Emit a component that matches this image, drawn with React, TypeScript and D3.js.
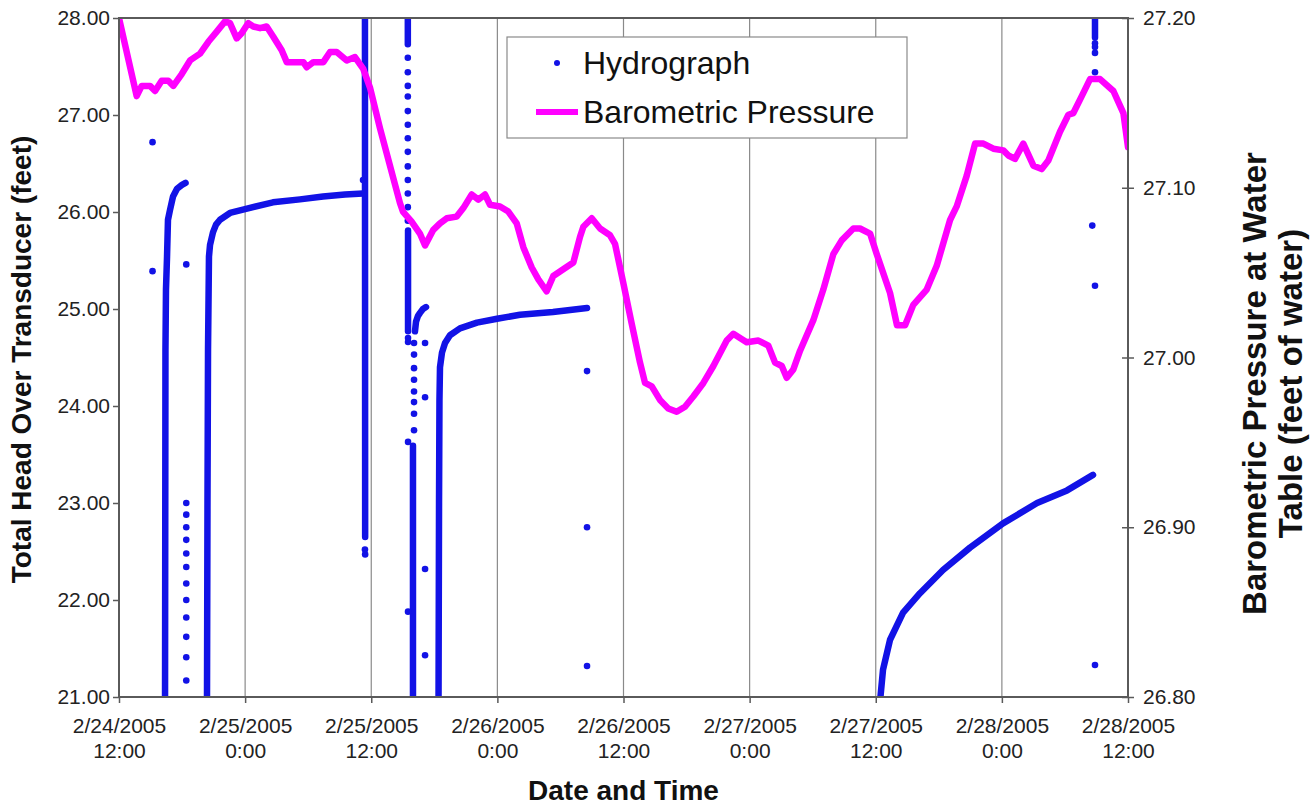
import React, { useEffect, useRef } from "react";
import * as d3 from "d3";

type Pt = [number, number];

// x values are hours after 2/24/2005 12:00
const xTickHours = [0, 12, 24, 36, 48, 60, 72, 84, 96];
const xTickDates = ["2/24/2005", "2/25/2005", "2/25/2005", "2/26/2005", "2/26/2005", "2/27/2005", "2/27/2005", "2/28/2005", "2/28/2005"];
const xTickTimes = ["12:00", "0:00", "12:00", "0:00", "12:00", "0:00", "12:00", "0:00", "12:00"];
const leftTicks = [21, 22, 23, 24, 25, 26, 27, 28];
const rightTicks = [26.8, 26.9, 27.0, 27.1, 27.2];

// Hydrograph: dense logger runs (markers so close they form a band)
const hydroRun1: Pt[] = [
  [4.38, 20.9], [4.42, 24.58], [4.47, 25.2], [4.57, 25.54], [4.66, 25.92], [4.85, 26.02],
  [5.14, 26.16], [5.52, 26.24], [5.99, 26.28], [6.33, 26.3],
];
const hydroRun2: Pt[] = [
  [8.37, 20.9], [8.42, 23.03], [8.47, 24.58], [8.56, 25.54], [8.66, 25.66], [8.94, 25.79],
  [9.23, 25.87], [9.61, 25.92], [10.56, 25.99], [11.99, 26.03], [14.65, 26.1], [17.22, 26.13],
  [19.41, 26.16], [21.5, 26.18], [23.22, 26.19],
];
const hydroRun3: Pt[] = [[23.4, 28.3], [23.42, 22.65]];
const hydroRun4: Pt[] = [[27.48, 28.3], [27.48, 27.73]];
const hydroRun5: Pt[] = [[27.5, 25.81], [27.5, 24.77]];
const hydroRun6: Pt[] = [[27.97, 20.9], [27.97, 23.59]];
const hydroRun7: Pt[] = [
  [28.16, 24.77], [28.26, 24.87], [28.45, 24.93], [28.64, 24.96], [28.92, 25.0], [29.21, 25.02],
];
const hydroRun8: Pt[] = [
  [30.4, 20.9], [30.45, 23.03], [30.49, 24.06], [30.54, 24.4], [30.73, 24.55], [31.02, 24.65],
  [31.49, 24.73], [32.44, 24.8], [34.06, 24.86], [35.97, 24.9], [38.15, 24.94], [41.29, 24.97],
  [44.53, 25.01],
];
const hydroRun9: Pt[] = [
  [72.36, 20.9], [72.69, 21.28], [73.36, 21.59], [74.6, 21.87], [76.21, 22.07], [78.4, 22.31],
  [80.97, 22.54], [84.11, 22.79], [87.35, 23.0], [90.2, 23.13], [92.67, 23.29],
];
const hydroRun10: Pt[] = [[92.86, 28.3], [92.86, 27.8]];

// Hydrograph: single readings during fast changes
const hydroPoints: Pt[] = [
  [3.19, 26.72], [3.19, 25.39],
  [6.4, 25.46], [6.4, 23.0], [6.4, 22.88], [6.4, 22.75], [6.4, 22.62], [6.4, 22.48], [6.4, 22.34],
  [6.4, 22.17], [6.4, 22.0], [6.4, 21.82], [6.4, 21.62], [6.4, 21.41], [6.4, 21.17],
  [23.22, 26.33], [23.4, 22.52], [23.42, 22.47],
  [27.48, 27.59], [27.48, 27.44], [27.48, 27.3], [27.48, 27.19], [27.48, 27.04], [27.48, 26.9],
  [27.48, 26.76], [27.48, 26.62], [27.48, 26.47], [27.48, 26.33], [27.48, 26.19], [27.48, 26.05],
  [27.48, 25.91], [27.5, 24.7], [27.5, 24.66], [27.5, 23.63], [27.5, 21.88],
  [28.07, 23.75], [28.07, 23.92], [28.07, 24.04], [28.07, 24.15], [28.07, 24.27], [28.07, 24.39],
  [28.07, 24.53], [28.07, 24.65],
  [29.12, 24.65], [29.12, 24.09], [29.12, 22.32], [29.12, 21.43],
  [44.53, 24.36], [44.53, 22.75], [44.53, 21.32],
  [92.86, 27.74], [92.86, 27.7], [92.86, 27.64], [92.86, 27.44], [92.6, 25.86], [92.86, 25.24],
  [92.86, 21.33],
];

// Barometric pressure (feet of water)
const baroHours = [
  0, 1.68, 2.16, 2.95, 3.43, 4.06, 4.69, 5.17, 5.97, 6.76, 7.71, 8.5, 9.3, 10.09, 10.56, 11.2,
  11.67, 12.3, 12.78, 13.42, 14.05, 14.68, 15.48, 15.96, 17.54, 17.86, 18.49, 19.44, 20.08,
  20.71, 21.67, 22.45, 23.24, 23.88, 24.83, 25.78, 26.73, 27.01, 27.84, 28.63, 29.12, 29.88,
  30.54, 31.18, 32.13, 32.76, 33.56, 34.19, 34.82, 35.3, 36.25, 37.04, 37.84, 38.47, 39.27,
  39.9, 40.69, 41.32, 42.27, 43.23, 43.86, 44.18, 44.98, 45.77, 46.72, 47.19, 47.98, 48.78,
  49.57, 50.05, 50.69, 51.47, 52.26, 53.06, 53.85, 54.64, 55.6, 56.55, 57.82, 58.45, 59.72,
  60.83, 61.78, 62.42, 63.06, 63.53, 64.16, 64.8, 66.06, 67.01, 67.97, 68.76, 69.87, 70.5,
  71.46, 72.09, 73.36, 74.02, 74.79, 75.57, 76.85, 77.8, 79.07, 79.7, 80.65, 81.45, 82.24,
  83.19, 84.14, 84.62, 85.25, 86.04, 87.0, 87.79, 88.42, 89.53, 90.33, 90.8, 91.6, 92.39,
  93.34, 94.61, 95.56, 96.0,
];
const baroValues = [
  27.2, 27.154, 27.16, 27.16, 27.157, 27.163, 27.163, 27.16, 27.167, 27.175, 27.179, 27.186,
  27.192, 27.198, 27.197, 27.188, 27.191, 27.197, 27.195, 27.194, 27.195, 27.189, 27.181,
  27.174, 27.174, 27.171, 27.174, 27.174, 27.18, 27.18, 27.175, 27.177, 27.17, 27.159, 27.135,
  27.113, 27.091, 27.086, 27.08, 27.073, 27.066, 27.075, 27.079, 27.082, 27.083, 27.088,
  27.096, 27.093, 27.096, 27.09, 27.089, 27.086, 27.079, 27.065, 27.053, 27.046, 27.039,
  27.048, 27.052, 27.056, 27.071, 27.077, 27.082, 27.076, 27.072, 27.067, 27.044, 27.02,
  26.997, 26.985, 26.983, 26.975, 26.97, 26.968, 26.971, 26.977, 26.985, 26.995, 27.01,
  27.014, 27.009, 27.01, 27.007, 26.997, 26.995, 26.988, 26.993, 27.004, 27.022, 27.04,
  27.061, 27.069, 27.076, 27.076, 27.073, 27.061, 27.038, 27.019, 27.019, 27.031, 27.04,
  27.054, 27.081, 27.089, 27.107, 27.126, 27.126, 27.123, 27.122, 27.119, 27.117, 27.126,
  27.113, 27.111, 27.116, 27.133, 27.143, 27.144, 27.154, 27.164, 27.164, 27.157, 27.144,
  27.124,
];

const FONT = "'Liberation Sans', Arial, sans-serif";
const BLUE = "#1212e6";
const PINK = "#ff00ff";

export default function App() {
  const ref = useRef<SVGSVGElement | null>(null);

  useEffect(() => {
    const svg = d3.select(ref.current);
    svg.selectAll("*").remove();

    const margin = { top: 18, right: 182, bottom: 112, left: 119 };
    const W = 1310, H = 809;
    const w = W - margin.left - margin.right;
    const h = H - margin.top - margin.bottom;

    const g = svg.append("g").attr("transform", `translate(${margin.left},${margin.top})`);

    const x = d3.scaleLinear().domain([0, 96]).range([0, w]);
    const yL = d3.scaleLinear().domain([21, 28]).range([h, 0]);
    const yR = d3.scaleLinear().domain([26.8, 27.2]).range([h, 0]);

    svg.append("defs").append("clipPath").attr("id", "plotClip")
      .append("rect").attr("x", 0).attr("y", 0).attr("width", w).attr("height", h);

    // vertical gridlines
    g.append("g").selectAll("line")
      .data(xTickHours.slice(1, -1))
      .join("line")
      .attr("x1", (d) => x(d)).attr("x2", (d) => x(d))
      .attr("y1", 0).attr("y2", h)
      .attr("stroke", "#8a8a8a").attr("stroke-width", 1.2);

    const plot = g.append("g").attr("clip-path", "url(#plotClip)");

    // hydrograph dense runs
    const lineL = d3.line<Pt>().x((d) => x(d[0])).y((d) => yL(d[1]));
    const runs = [hydroRun1, hydroRun2, hydroRun3, hydroRun4, hydroRun5, hydroRun6, hydroRun7, hydroRun8, hydroRun9, hydroRun10];
    plot.selectAll("path.run").data(runs).join("path")
      .attr("class", "run")
      .attr("d", (d) => lineL(d))
      .attr("fill", "none").attr("stroke", BLUE).attr("stroke-width", 6.5)
      .attr("stroke-linecap", "round").attr("stroke-linejoin", "round");

    plot.selectAll("circle.pt").data(hydroPoints).join("circle")
      .attr("class", "pt")
      .attr("cx", (d) => x(d[0])).attr("cy", (d) => yL(d[1]))
      .attr("r", 3.3).attr("fill", BLUE);

    // barometric pressure
    const baro = baroHours.map((t, i) => [t, baroValues[i]] as Pt);
    const lineR = d3.line<Pt>().x((d) => x(d[0])).y((d) => yR(d[1]));
    plot.append("path").attr("d", lineR(baro))
      .attr("fill", "none").attr("stroke", PINK).attr("stroke-width", 6.5)
      .attr("stroke-linejoin", "round").attr("stroke-linecap", "round");

    // axes
    const axisColor = "#5a5a5a";
    const styleAxis = (sel: d3.Selection<SVGGElement, unknown, null, undefined>) => {
      sel.select(".domain").remove();
      sel.selectAll(".tick line").attr("stroke", axisColor).attr("stroke-width", 1.5);
      sel.selectAll(".tick text").attr("fill", "#222").style("font-family", FONT).style("font-size", "21px");
    };

    const left = g.append("g").call(
      d3.axisLeft(yL).tickValues(leftTicks).tickFormat(d3.format(".2f") as any).tickSize(6).tickPadding(3)
    );
    styleAxis(left);

    const right = g.append("g").attr("transform", `translate(${w},0)`).call(
      d3.axisRight(yR).tickValues(rightTicks).tickFormat(d3.format(".2f") as any).tickSize(6).tickPadding(9)
    );
    styleAxis(right);
    right.selectAll(".tick line").attr("x1", -6);

    const bottom = g.append("g").attr("transform", `translate(0,${h})`).call(
      d3.axisBottom(x).tickValues(xTickHours).tickFormat(() => "").tickSize(6)
    );
    styleAxis(bottom);
    bottom.selectAll(".tick").each(function (_d, i) {
      const t = d3.select(this);
      t.append("text").attr("y", 36).attr("text-anchor", "middle").attr("fill", "#222")
        .style("font-family", FONT).style("font-size", "21px").text(xTickDates[i]);
      t.append("text").attr("y", 61).attr("text-anchor", "middle").attr("fill", "#222")
        .style("font-family", FONT).style("font-size", "21px").text(xTickTimes[i]);
    });

    // frame
    g.append("rect").attr("x", 0).attr("y", 0).attr("width", w).attr("height", h)
      .attr("fill", "none").attr("stroke", axisColor).attr("stroke-width", 2);

    // axis titles
    g.append("text")
      .attr("transform", `translate(${-88},${h / 2 + 2}) rotate(-90)`)
      .attr("text-anchor", "middle").style("font-family", FONT).style("font-size", "28px")
      .style("font-weight", "bold").attr("fill", "#111")
      .text("Total Head Over Transducer (feet)");

    g.append("text")
      .attr("x", w / 2).attr("y", h + 103)
      .attr("text-anchor", "middle").style("font-family", FONT).style("font-size", "28px")
      .style("font-weight", "bold").attr("fill", "#111")
      .text("Date and Time");

    const rt = g.append("text")
      .attr("transform", `translate(${w + 138},${h / 2 + 26}) rotate(-90)`)
      .attr("text-anchor", "middle").style("font-family", FONT).style("font-size", "33px")
      .style("font-weight", "bold").attr("fill", "#111");
    rt.append("tspan").attr("x", 0).attr("dy", 0).text("Barometric Pressure at Water");
    rt.append("tspan").attr("x", 0).attr("dy", 36).text("Table (feet of water)");

    // legend
    const lg = svg.append("g").attr("transform", "translate(507,37)");
    lg.append("rect").attr("width", 400).attr("height", 101)
      .attr("fill", "white").attr("stroke", "#8a8a8a").attr("stroke-width", 1.2);
    lg.append("circle").attr("cx", 50).attr("cy", 26).attr("r", 3).attr("fill", BLUE);
    lg.append("text").attr("x", 76).attr("y", 37).style("font-family", FONT).style("font-size", "32px")
      .attr("fill", "#111").text("Hydrograph");
    lg.append("line").attr("x1", 29).attr("x2", 71).attr("y1", 75).attr("y2", 75)
      .attr("stroke", PINK).attr("stroke-width", 6);
    lg.append("text").attr("x", 76).attr("y", 86).style("font-family", FONT).style("font-size", "32px")
      .attr("fill", "#111").text("Barometric Pressure");
  }, []);

  return (
    <svg ref={ref} width={1310} height={809}
      style={{ position: "absolute", left: 0, top: 0, background: "white" }} />
  );
}
